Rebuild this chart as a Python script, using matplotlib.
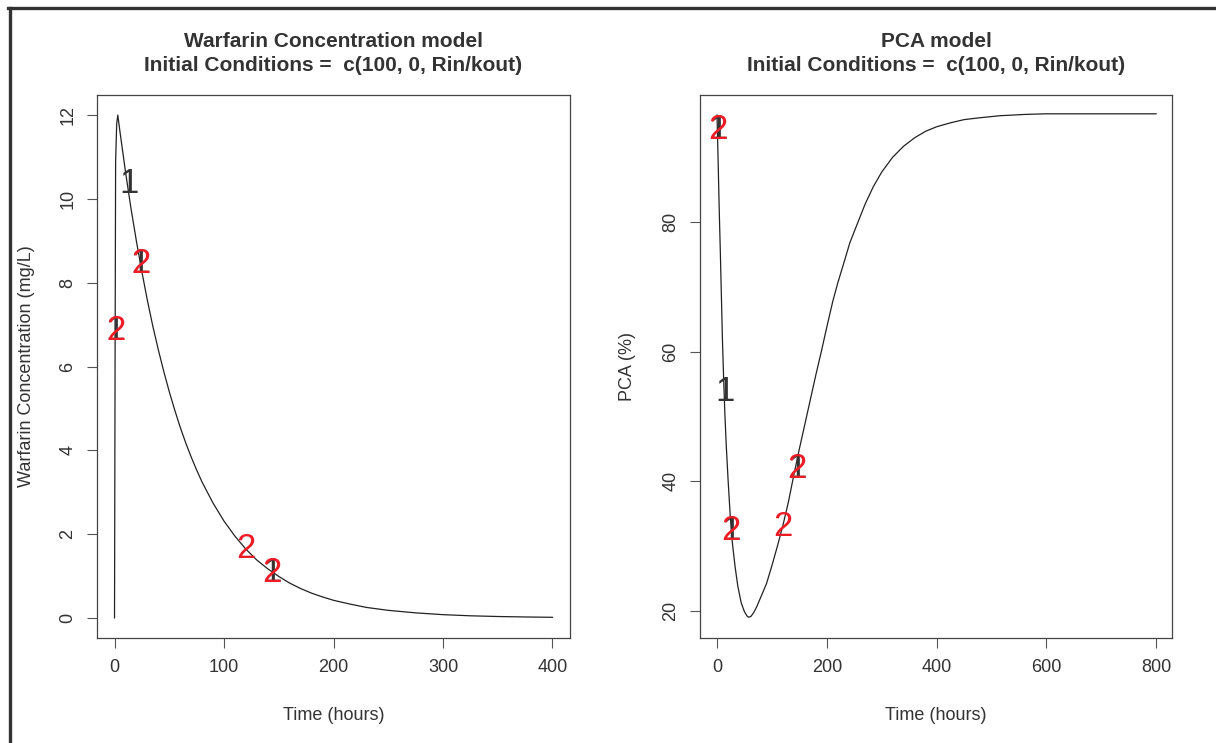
import matplotlib
matplotlib.use("Agg")
import matplotlib.pyplot as plt
from matplotlib.lines import Line2D

plt.rcParams['font.family'] = ['Liberation Sans', 'DejaVu Sans']

# warfarin concentration (mg/L) vs time (hours)
warf_t = [0, 0.5, 1, 2, 3, 5, 10, 15, 20, 25, 30, 35, 40, 45, 50, 55, 60, 65,
          70, 75, 80, 90, 100, 110, 120, 130, 140, 150, 160, 170, 180, 190,
          200, 215, 230, 250, 275, 300, 325, 350, 375, 400]
warf_c = [0, 6.0, 10.9, 11.8, 12.0, 11.6, 10.65, 9.78, 8.99, 8.26, 7.58, 6.96,
          6.40, 5.88, 5.40, 4.96, 4.55, 4.18, 3.84, 3.53, 3.24, 2.74, 2.31,
          1.95, 1.64, 1.38, 1.17, 0.99, 0.83, 0.70, 0.59, 0.50, 0.42, 0.33,
          0.25, 0.18, 0.12, 0.077, 0.05, 0.033, 0.022, 0.014]

# PCA (%) vs time (hours)
pca_t = [0, 2, 4, 6, 8, 10, 12, 14.5, 17, 20, 24, 28, 33, 38, 44, 50, 55, 58,
         62, 67, 72, 80, 90, 100, 110, 120, 130, 140, 150, 160, 170, 180, 190,
         200, 211, 220, 230, 242, 255, 270, 285, 300, 320, 340, 360, 380, 400,
         425, 450, 480, 515, 560, 600, 700, 800]
pca_v = [96.5, 89.5, 82.0, 75.5, 68.5, 61.5, 56.0, 50.0, 45.3, 40.5, 34.8,
         30.5, 26.8, 23.8, 21.3, 19.9, 19.2, 19.05, 19.2, 19.8, 20.6, 22.2,
         24.2, 27.0, 30.0, 33.2, 36.8, 41.0, 45.0, 48.8, 52.6, 56.4, 60.0,
         63.8, 67.8, 70.6, 73.4, 76.8, 79.6, 82.8, 85.5, 87.7, 90.0, 91.7,
         93.0, 94.0, 94.7, 95.3, 95.8, 96.1, 96.4, 96.6, 96.7, 96.7, 96.7]

# curve labels "1" and "2" (x, y)
warf_lab1 = [(13, 10.37), (23.7, 8.47), (0.9, 6.87), (143.7, 1.08)]
warf_lab2 = [(23.7, 8.47), (0.9, 6.87), (120.3, 1.66), (143.7, 1.08)]
pca_lab1 = [(2.4, 94.3), (14.6, 53.8), (24.9, 32.5), (145, 42.0)]
pca_lab2 = [(2.4, 94.3), (24.9, 32.5), (120.8, 33.0), (145, 42.0)]

title2 = "Initial Conditions =  c(100, 0, Rin/kout)"
dark = '#333333'
red = '#ee1c25'

fig = plt.figure(figsize=(12.16, 7.43), dpi=100)
ax1 = fig.add_axes([97 / 1216, 1 - 638 / 743, 473 / 1216, 543 / 743])
ax2 = fig.add_axes([700 / 1216, 1 - 638 / 743, 472 / 1216, 543 / 743])


def style(ax, title1, ylabel, ylab_x):
    for s in ax.spines.values():
        s.set_color('#444444')
        s.set_linewidth(0.9)
    ax.tick_params(length=7, width=0.8, color='#555555', labelcolor=dark,
                   labelsize=13, pad=8)
    for lab in ax.get_yticklabels():
        lab.set_rotation(90)
        lab.set_va('center')
    ax.text(0.5, 1 + 53 / 543, title1, transform=ax.transAxes, ha='center',
            va='center', fontsize=15, fontweight='bold', color=dark)
    ax.text(0.5, 1 + 29 / 543, title2, transform=ax.transAxes, ha='center',
            va='center', fontsize=15, fontweight='bold', color=dark)
    ax.set_xlabel("Time (hours)", fontsize=13, color=dark)
    ax.xaxis.label.set_va('center')
    ax.xaxis.set_label_coords(0.5, -77 / 543)
    ax.set_ylabel(ylabel, fontsize=13, color=dark)
    ax.yaxis.label.set_va('center')
    ax.yaxis.set_label_coords(ylab_x, 0.5)


# left panel
ax1.plot(warf_t, warf_c, color='#222222', lw=0.9)
for x, y in warf_lab1:
    ax1.text(x, y, "1", color=dark, fontsize=25, ha='center', va='center')
for x, y in warf_lab2:
    ax1.text(x, y, "2", color=red, fontsize=25, ha='center', va='center')
ax1.set_xlim(-16, 416)
ax1.set_ylim(-0.48, 12.48)
ax1.set_xticks([0, 100, 200, 300, 400])
ax1.set_yticks([0, 2, 4, 6, 8, 10, 12])
style(ax1, "Warfarin Concentration model", "Warfarin Concentration (mg/L)",
      -70 / 473)

# right panel
ax2.plot(pca_t, pca_v, color='#222222', lw=0.9)
for x, y in pca_lab1:
    ax2.text(x, y, "1", color=dark, fontsize=25, ha='center', va='center')
for x, y in pca_lab2:
    ax2.text(x, y, "2", color=red, fontsize=25, ha='center', va='center')
ax2.set_xlim(-31, 829)
ax2.set_ylim(15.85, 99.6)
ax2.set_xticks([0, 200, 400, 600, 800])
ax2.set_yticks([20, 40, 60, 80])
style(ax2, "PCA model", "PCA (%)", -72 / 472)

# dark frame on the left and top edges
fig.add_artist(Line2D([9.5 / 1216, 9.5 / 1216], [0, 1 - 7.5 / 743],
                      transform=fig.transFigure, color=dark, lw=2.4))
fig.add_artist(Line2D([8 / 1216, 1], [1 - 7.5 / 743, 1 - 7.5 / 743],
                      transform=fig.transFigure, color=dark, lw=2.4))

fig.savefig("out.png", dpi=100)
